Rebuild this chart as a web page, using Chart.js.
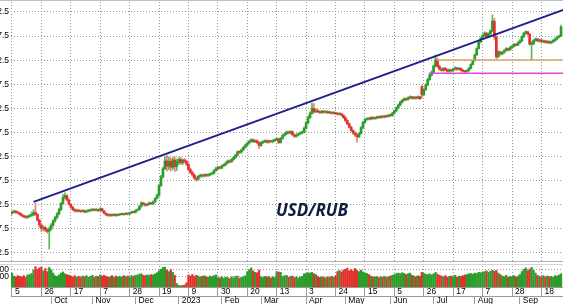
<!DOCTYPE html>
<html>
<head>
<meta charset="utf-8">
<script src="https://cdn.jsdelivr.net/npm/chart.js@4.4.0/dist/chart.umd.min.js"></script>
<style>
  html, body { margin: 0; padding: 0; background: #fff; }
  body { width: 563px; height: 304px; overflow: hidden; position: relative; }
  #price { position: absolute; left: -20px; top: 0; }
  #vol { position: absolute; left: -20px; top: 263px; }
  .sep { position: absolute; left: 0; width: 563px; height: 1px; }
  #pair { position: absolute; left: 276px; top: 198px; font: italic bold 17px "Open Sans", sans-serif; color: #101c40; }
</style>
</head>
<body>
<div class="sep" style="top:0;background:#b9c0d0"></div>
<canvas id="price" width="583" height="263"></canvas>
<div class="sep" style="top:261px;background:#b0b0b0"></div>
<div class="sep" style="top:264px;background:#d4d4d4"></div>
<canvas id="vol" width="583" height="45"></canvas>
<div id="pair">USD/RUB</div>
<script>
// daily candles, one row per trading week, first row = week of 5 Sep 2022
const open = [
  60.7, 61.0, 61.2, 60.9, 60.8,  60.5, 60.2, 60.0, 59.9, 60.1,  60.3, 60.4, 60.9, 60.5, 59.3,
  58.3, 57.6, 57.8, 57.3, 57.0,  57.5, 58.3, 59.2, 59.9, 60.6,  61.5, 62.8, 64.0, 64.4, 63.5,
  62.6, 62.0, 61.5, 61.2, 61.4,  61.2, 61.1, 61.3, 61.0, 61.2,  61.3, 61.4, 61.5, 61.4, 61.5,
  61.3, 61.7, 61.2, 60.7, 60.4,  60.3, 60.4, 60.3, 60.5, 60.3,  60.4, 60.5, 60.6, 60.5, 60.7,
  60.6, 60.8, 61.0, 60.9, 61.3,  61.5, 62.2, 62.9, 62.6, 62.4,  62.6, 62.9, 62.7, 63.1, 63.8,
  64.5, 66.5, 68.3, 70.0, 71.6,  70.5, 71.5, 70.3, 71.8, 70.4,  71.4, 71.9, 71.2, 71.8, 71.5,
  70.9, 69.8, 69.2, 68.7, 68.0,  67.8, 68.4, 68.6, 68.5, 68.7,  68.6, 68.7, 68.9, 69.0, 69.6,
  70.0, 70.3, 70.1, 70.6, 70.8,  71.2, 71.6, 71.4, 71.9, 72.3,  72.8, 73.5, 73.4, 73.9, 74.4,
  74.9, 75.3, 75.7, 76.0, 75.6,  75.8, 75.4, 74.8, 75.4, 75.6,  75.8, 75.5, 75.7, 75.6, 75.8,
  76.0, 76.2, 75.4, 76.3, 76.9,  77.2, 77.6, 77.4, 77.7, 77.0,  76.7, 77.0, 77.2, 77.4, 77.6,
  78.4, 79.5, 80.6, 81.5, 82.5,  81.8, 82.0, 81.8, 81.6, 81.9,  81.7, 81.8, 81.6, 81.7, 81.5,
  81.6, 81.4, 81.3, 81.4, 81.1,  80.6, 80.0, 79.3, 78.6, 77.9,  77.4, 77.0, 76.6, 77.3, 78.5,
  79.6, 80.2, 80.4, 80.3, 80.6,  80.4, 80.5, 80.7, 80.6, 80.8,  80.7, 80.9, 80.8, 81.1, 81.0,
  81.5, 82.0, 82.6, 83.2, 83.8,  84.2, 84.5, 84.3, 84.7, 84.9,  84.6, 84.8, 84.6, 84.9, 87.0,
  85.3, 86.4, 87.4, 88.5, 89.4,  90.0, 91.3, 92.6, 91.2, 90.6,  90.4, 90.8, 90.5, 90.2, 90.5,
  90.3, 90.7, 90.9, 90.6, 90.8,  90.4, 90.2, 90.1, 90.3, 90.8,  91.6, 92.4, 93.6, 94.9, 96.3,
  97.0, 97.6, 98.1, 97.4, 98.0,  98.6, 100.6, 97.3, 93.2, 94.2, 93.8, 94.1, 94.5, 94.9, 94.6,
  95.1, 95.4, 95.8, 95.6, 96.1,  96.5, 97.4, 98.1, 98.4, 97.9,  95.8, 95.9, 96.6, 96.9, 96.5,
  96.7, 96.3, 96.5, 96.2, 96.4,  96.1, 96.3, 96.6, 96.9, 97.3,  97.5
];
const high = [
  61.2, 61.4, 61.3, 61.1, 60.9,  60.7, 60.4, 60.3, 60.3, 60.5,  61.0, 61.5, 62.8, 60.7, 59.5,
  58.6, 58.2, 58.0, 57.6, 57.9,  58.6, 59.4, 60.1, 60.9, 61.8,  63.0, 64.6, 65.0, 64.6, 63.8,
  62.8, 62.2, 61.7, 61.6, 61.5,  61.4, 61.5, 61.4, 61.4, 61.5,  61.6, 61.7, 61.6, 61.7, 61.6,
  61.9, 61.8, 61.3, 60.9, 60.6,  60.6, 60.6, 60.7, 60.6, 60.6,  60.7, 60.8, 60.7, 60.9, 60.8,
  61.0, 61.2, 61.2, 61.5, 61.7,  62.4, 63.1, 63.0, 62.8, 62.8,  63.1, 63.0, 63.3, 64.0, 64.8,
  66.8, 68.6, 70.3, 72.5, 72.8,  72.4, 72.2, 72.3, 72.5, 72.0,  72.3, 72.4, 72.0, 72.1, 71.8,
  71.2, 70.1, 69.5, 68.9, 68.3,  68.6, 68.9, 68.8, 68.9, 68.9,  68.9, 69.1, 69.3, 69.8, 70.3,
  70.5, 70.5, 70.8, 71.0, 71.4,  71.8, 71.8, 72.1, 72.5, 73.0,  73.7, 73.7, 74.1, 74.6, 75.1,
  75.5, 75.9, 76.2, 76.2, 76.0,  76.0, 75.6, 75.6, 75.8, 76.0,  76.0, 75.9, 75.9, 76.0, 76.2,
  76.4, 76.3, 76.5, 77.1, 77.4,  77.8, 77.8, 77.9, 77.8, 77.2,  77.2, 77.4, 77.6, 77.8, 78.6,
  79.8, 80.9, 81.8, 83.6, 83.5,  82.4, 82.3, 82.0, 82.1, 82.1,  82.0, 82.0, 81.9, 81.8, 81.8,
  81.7, 81.6, 81.6, 81.5, 81.2,  80.8, 80.2, 79.5, 78.8, 78.1,  77.6, 77.2, 77.5, 78.7, 79.8,
  80.4, 80.6, 80.6, 80.8, 80.8,  80.7, 80.9, 80.9, 81.0, 81.0,  81.1, 81.1, 81.3, 81.3, 81.7,
  82.2, 82.8, 83.4, 84.0, 84.4,  84.7, 84.7, 84.9, 85.1, 85.0,  85.0, 85.0, 85.1, 85.0, 87.3,
  86.6, 87.6, 88.7, 89.6, 90.3,  91.5, 93.6, 92.9, 91.5, 90.9,  91.0, 91.0, 90.7, 90.7, 90.6,
  90.9, 91.1, 91.0, 91.0, 90.9,  90.6, 90.4, 90.5, 91.0, 91.8,  92.6, 93.8, 95.1, 96.5, 97.3,
  97.9, 98.4, 98.3, 98.2, 98.8,  101.9, 101.2, 97.6, 94.5, 94.4, 94.3, 94.7, 95.1, 95.0, 95.3,
  95.6, 96.0, 95.9, 96.3, 96.7,  97.6, 98.3, 98.6, 98.5, 98.1,  96.4, 96.8, 97.1, 97.0, 96.9,
  96.8, 96.7, 96.6, 96.6, 96.5,  96.5, 96.8, 97.1, 97.5, 97.7,  99.8
];
const low = [
  60.5, 60.8, 60.7, 60.6, 60.3,  60.0, 59.8, 59.6, 59.7, 59.9,  60.1, 60.2, 60.3, 59.1, 57.8,
  56.9, 57.1, 56.9, 56.6, 53.3,  57.2, 58.0, 58.9, 59.6, 60.4,  61.3, 62.6, 63.7, 63.3, 62.4,
  61.8, 61.3, 61.0, 61.0, 61.0,  60.9, 61.0, 60.8, 60.9, 61.0,  61.1, 61.2, 61.2, 61.2, 61.1,
  61.2, 61.1, 60.6, 60.3, 60.1,  60.1, 60.1, 60.2, 60.1, 60.2,  60.3, 60.4, 60.3, 60.4, 60.4,
  60.5, 60.7, 60.8, 60.8, 61.2,  61.4, 62.0, 62.4, 62.2, 62.3,  62.5, 62.5, 62.6, 63.0, 63.7,
  64.3, 66.3, 68.0, 69.8, 69.5,  69.8, 69.5, 69.8, 69.4, 69.6,  70.8, 70.9, 70.8, 71.2, 70.6,
  69.5, 69.0, 68.4, 67.8, 67.4,  67.6, 68.2, 68.2, 68.3, 68.3,  68.4, 68.5, 68.7, 68.9, 69.4,
  69.8, 69.9, 70.0, 70.4, 70.6,  71.0, 71.2, 71.3, 71.7, 72.1,  72.6, 73.1, 73.2, 73.7, 74.2,
  74.7, 75.1, 75.5, 75.4, 75.4,  75.2, 74.2, 74.6, 75.2, 75.4,  75.3, 75.3, 75.4, 75.4, 75.6,
  75.8, 75.2, 75.3, 76.1, 76.7,  77.0, 77.2, 77.2, 76.9, 76.5,  76.5, 76.8, 77.0, 77.2, 77.4,
  78.2, 79.3, 80.4, 81.3, 81.5,  81.6, 81.6, 81.4, 81.5, 81.5,  81.5, 81.4, 81.4, 81.3, 81.3,
  81.2, 81.1, 81.1, 80.9, 80.4,  79.8, 79.1, 78.4, 77.7, 77.1,  76.7, 75.5, 76.4, 77.1, 78.3,
  79.4, 80.0, 80.1, 80.1, 80.2,  80.2, 80.3, 80.4, 80.4, 80.5,  80.5, 80.6, 80.7, 80.8, 80.9,
  81.3, 81.8, 82.4, 83.0, 83.6,  84.0, 84.1, 84.2, 84.5, 84.4,  84.4, 84.4, 84.5, 84.3, 84.6,
  85.1, 86.2, 87.2, 88.3, 89.2,  89.8, 91.1, 91.0, 90.4, 90.2,  90.2, 90.3, 90.0, 90.0, 90.1,
  90.2, 90.5, 90.4, 90.5, 90.2,  90.0, 89.9, 90.0, 90.2, 90.7,  91.5, 92.3, 93.5, 94.8, 96.1,
  96.8, 97.4, 97.2, 97.2, 97.8,  98.4, 96.8, 92.8, 93.0, 93.5,  93.6, 93.9, 94.3, 94.4, 94.5,
  94.9, 95.2, 95.4, 95.5, 95.9,  96.3, 97.2, 97.9, 97.7, 95.6,  92.5, 95.7, 96.4, 96.3, 96.3,
  96.1, 96.1, 96.0, 96.0, 95.9,  95.9, 96.1, 96.4, 96.7, 97.1,  97.4
];
const close = [
  61.0, 61.2, 60.9, 60.8, 60.5,  60.2, 60.0, 59.9, 60.1, 60.3,  60.4, 60.9, 60.5, 59.3, 58.3,
  57.6, 57.8, 57.3, 57.0, 57.5,  58.3, 59.2, 59.9, 60.6, 61.5,  62.8, 64.0, 64.4, 63.5, 62.6,
  62.0, 61.5, 61.2, 61.4, 61.2,  61.1, 61.3, 61.0, 61.2, 61.3,  61.4, 61.5, 61.4, 61.5, 61.3,
  61.7, 61.2, 60.7, 60.4, 60.3,  60.4, 60.3, 60.5, 60.3, 60.4,  60.5, 60.6, 60.5, 60.7, 60.6,
  60.8, 61.0, 60.9, 61.3, 61.5,  62.2, 62.9, 62.6, 62.4, 62.6,  62.9, 62.7, 63.1, 63.8, 64.5,
  66.5, 68.3, 70.0, 71.6, 70.5,  71.5, 70.3, 71.8, 70.4, 71.4,  71.9, 71.2, 71.8, 71.5, 70.9,
  69.8, 69.2, 68.7, 68.0, 67.8,  68.4, 68.6, 68.5, 68.7, 68.6,  68.7, 68.9, 69.0, 69.6, 70.0,
  70.3, 70.1, 70.6, 70.8, 71.2,  71.6, 71.4, 71.9, 72.3, 72.8,  73.5, 73.4, 73.9, 74.4, 74.9,
  75.3, 75.7, 76.0, 75.6, 75.8,  75.4, 74.8, 75.4, 75.6, 75.8,  75.5, 75.7, 75.6, 75.8, 76.0,
  76.2, 75.4, 76.3, 76.9, 77.2,  77.6, 77.4, 77.7, 77.0, 76.7,  77.0, 77.2, 77.4, 77.6, 78.4,
  79.5, 80.6, 81.5, 82.5, 81.8,  82.0, 81.8, 81.6, 81.9, 81.7,  81.8, 81.6, 81.7, 81.5, 81.6,
  81.4, 81.3, 81.4, 81.1, 80.6,  80.0, 79.3, 78.6, 77.9, 77.4,  77.0, 76.6, 77.3, 78.5, 79.6,
  80.2, 80.4, 80.3, 80.6, 80.4,  80.5, 80.7, 80.6, 80.8, 80.7,  80.9, 80.8, 81.1, 81.0, 81.5,
  82.0, 82.6, 83.2, 83.8, 84.2,  84.5, 84.3, 84.7, 84.9, 84.6,  84.8, 84.6, 84.9, 84.5, 85.3,
  86.4, 87.4, 88.5, 89.4, 90.0,  91.3, 92.6, 91.2, 90.6, 90.4,  90.8, 90.5, 90.2, 90.5, 90.3,
  90.7, 90.9, 90.6, 90.8, 90.4,  90.2, 90.1, 90.3, 90.8, 91.6,  92.4, 93.6, 94.9, 96.3, 97.0,
  97.6, 98.1, 97.4, 98.0, 98.6,  100.6, 97.3, 93.2, 94.2, 93.8, 94.1, 94.5, 94.9, 94.6, 95.1,
  95.4, 95.8, 95.6, 96.1, 96.5,  97.4, 98.1, 98.4, 97.9, 95.8,  95.9, 96.6, 96.9, 96.5, 96.7,
  96.3, 96.5, 96.2, 96.4, 96.1,  96.3, 96.6, 96.9, 97.3, 97.5,  99.4
];
const volume = [
  2500, 2100, 2000, 2150, 2050,  2000, 2150, 1950, 2250, 2300,  2450, 2900, 3350, 3000, 3200,
  3300, 2800, 3100, 2700, 3250,  2950, 2500, 2150, 2050, 2250,  2500, 2650, 2400, 2300, 2200,
  2100, 2000, 2150, 1950, 2050,  1900, 2100, 2000, 2150, 1950,  2050, 2200, 1950, 2100, 2000,
  2250, 2100, 2200, 2050, 1950,  2000, 2150, 1900, 2100, 2000,  2050, 1950, 2150, 2000, 2100,
  2000, 2150, 2050, 2200, 2250,  2350, 2400, 2200, 2150, 2250,  2200, 2300, 2250, 2400, 2550,
  2800, 3000, 3250, 3300, 2900,  2700, 2950, 2600, 2200, 1100,  850, 800, 850, 900, 1200,
  2250, 2100, 2300, 2050, 2200,  2100, 1950, 2050, 2150, 2000,  1950, 2100, 2000, 2150, 2250,
  1900, 1850, 2000, 1800, 1950,  1900, 1750, 2000, 1850, 2050,  2100, 1800, 1950, 2000, 2150,
  2700, 2950, 3200, 2800, 2600,  2550, 2900, 2000, 1900, 2050,  1950, 2050, 1850, 2000, 1900,
  2700, 2650, 2600, 2050, 2150,  2200, 1950, 2050, 2100, 1900,  2000, 1850, 1950, 2050, 2400,
  2450, 2550, 2500, 2600, 2400,  2300, 2050, 1900, 2000, 1950,  1850, 2000, 1900, 2050, 1950,
  2100, 2700, 2850, 2650, 2900,  3000, 3150, 2800, 2950, 2750,  3100, 2850, 2700, 2900, 2650,
  2500, 2450, 2300, 2100, 2000,  1950, 2050, 1900, 2000, 1950,  2050, 1900, 2000, 2100, 2200,
  2300, 2450, 2500, 2400, 2550,  2450, 2300, 2400, 2500, 2200,  2100, 2000, 2150, 2050, 2600,
  2450, 2350, 2300, 2400, 2250,  2400, 2600, 2350, 2200, 2100,  2000, 2150, 1950, 2050, 2100,
  2000, 2200, 1950, 2100, 2050,  2150, 2250, 2300, 2400, 2450,  2350, 2500, 2450, 2600, 2550,
  2650, 2700, 2800, 2600, 2750,  2900, 2750, 2850, 2500, 2300,  2100, 2000, 2200, 1950, 2050,
  2000, 2150, 1950, 2100, 2300,  2700, 3000, 3200, 2800, 3050,  3250, 2850, 2500, 2200, 2050,
  2000, 2150, 1950, 2100, 2000,  2050, 1950, 2150, 2100, 2250,  2400
];

// drawn lines (trading-day index, price)
const trendLine = [{x: 11, y: 63.1}, {x: 285, y: 103.5}];
const resistance = [{x: 216.5, y: 92.55}, {x: 285, y: 92.55}];
const support = [{x: 212.5, y: 89.8}, {x: 285, y: 89.8}];

// axis ticks
const priceTicks = [52.5, 55, 57.5, 60, 62.5, 65, 67.5, 70, 72.5, 75, 77.5, 80, 82.5, 85, 87.5, 90, 92.5, 95, 97.5, 100, 102.5];
const volTicks = [2000, 3000];
const dayTicks = [0, 15, 30, 45, 60, 75, 90, 105, 120, 135, 150, 165, 180, 195, 210, 225, 240, 255, 270];
const dayLabels = ['5', '26', '17', '7', '28', '19', '9', '30', '20', '13', '3', '24', '15', '5', '26', '17', '7', '28', '18'];
const monthTicks = [20, 41, 63, 85, 107, 127, 150, 170, 193, 215, 236, 259];
const monthLabels = ['Oct', 'Nov', 'Dec', '2023', 'Feb', 'Mar', 'Apr', 'May', 'Jun', 'Jul', 'Aug', 'Sep'];

const GREEN = '#2a9d2a', RED = '#e2302d';
const GREEN_WICK = '#5cb65c', RED_WICK = '#ee7c78';
const GRID = '#999999', FRAME = '#9a9a9a';

Chart.defaults.font.family = '"Liberation Sans", Arial, sans-serif';
Chart.defaults.font.size = 8.5;
Chart.defaults.color = '#000';

const idx = close.map((c, i) => i);
const up = close.map((c, i) => c >= open[i]);

const noPad = s => { s.paddingTop = 0; s.paddingBottom = 0; s.paddingLeft = 0; s.paddingRight = 0; };
const xRange = { type: 'linear', min: -0.5, max: 281, offset: false };

new Chart(document.getElementById('price'), {
  type: 'bar',
  data: {
    datasets: [
      { type: 'line', data: trendLine, borderColor: '#1f1f8c', borderWidth: 2, pointRadius: 0, order: 0 },
      { type: 'line', data: resistance, borderColor: '#dca36a', borderWidth: 1.5, pointRadius: 0, order: 0 },
      { type: 'line', data: support, borderColor: '#e146e1', borderWidth: 1.5, pointRadius: 0, order: 0 },
      { data: idx.map(i => ({x: i, y: [low[i], high[i]]})), backgroundColor: up.map(u => u ? GREEN_WICK : RED_WICK),
        barThickness: 1, grouped: false, order: 2 },
      { data: idx.map(i => ({x: i, y: [open[i], close[i]]})), backgroundColor: up.map(u => u ? GREEN : RED),
        barThickness: 2, grouped: false, minBarLength: 1, order: 1 }
    ]
  },
  options: {
    responsive: false, animation: false, events: [],
    layout: { padding: { top: 2, bottom: 2, left: 0, right: 0 } },
    plugins: { legend: { display: false }, tooltip: { enabled: false } },
    scales: {
      x: { ...xRange,
        afterBuildTicks: s => { s.ticks = dayTicks.map(v => ({value: v})); },
        afterFit: s => { s.height = 0; noPad(s); },
        ticks: { display: false },
        grid: { offset: false, color: GRID, drawTicks: false },
        border: { display: false, dash: [1, 2] } },
      y: { min: 50.84, max: 104.57,
        afterBuildTicks: s => { s.ticks = priceTicks.map(v => ({value: v})); },
        afterFit: s => { s.width = 31; noPad(s); },
        ticks: { padding: 2, callback: v => v.toFixed(1) },
        grid: { color: GRID, drawTicks: false },
        border: { display: false, dash: [1, 2] } }
    }
  }
});

new Chart(document.getElementById('vol'), {
  type: 'bar',
  data: {
    datasets: [{
      data: idx.map(i => ({x: i, y: volume[i]})),
      backgroundColor: up.map(u => u ? GREEN : RED),
      barThickness: 1.6
    }]
  },
  options: {
    responsive: false, animation: false, events: [],
    layout: { padding: { top: 3, bottom: 2, left: 0, right: 0 } },
    plugins: { legend: { display: false }, tooltip: { enabled: false } },
    scales: {
      x: { ...xRange, weight: 0,
        afterBuildTicks: s => { s.ticks = dayTicks.map(v => ({value: v})); },
        afterFit: s => { s.height = 9; noPad(s); },
        ticks: { autoSkip: false, maxRotation: 0, minRotation: 0, align: 'start', labelOffset: 3, padding: -9,
                 callback: (v, i) => dayLabels[i] },
        grid: { offset: false, color: GRID, tickColor: FRAME, tickLength: 9, tickBorderDash: [] },
        border: { display: true, color: FRAME, dash: [1, 2] } },
      x2: { ...xRange, axis: 'x', position: 'bottom', weight: 1,
        afterBuildTicks: s => { s.ticks = monthTicks.map(v => ({value: v})); },
        afterFit: s => { s.height = 10; noPad(s); },
        ticks: { autoSkip: false, maxRotation: 0, minRotation: 0, align: 'start', labelOffset: 3, padding: -10.5,
                 callback: (v, i) => monthLabels[i] },
        grid: { offset: false, drawOnChartArea: false, tickColor: FRAME, tickLength: 10 },
        border: { display: true, color: FRAME } },
      y: { min: 630, max: 3450,
        afterBuildTicks: s => { s.ticks = volTicks.map(v => ({value: v})); },
        afterFit: s => { s.width = 31; noPad(s); },
        ticks: { padding: 2 },
        grid: { color: GRID, drawTicks: false },
        border: { display: false, dash: [1, 2] } }
    }
  }
});
</script>
</body>
</html>
